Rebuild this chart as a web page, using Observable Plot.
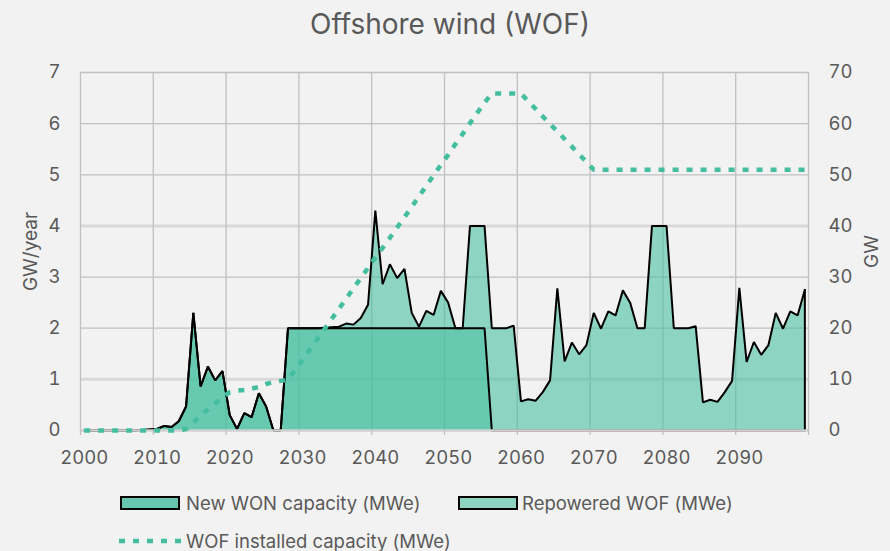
<!DOCTYPE html>
<html>
<head>
<meta charset="utf-8">
<script src="https://cdn.jsdelivr.net/npm/d3@7"></script>
<script src="https://cdn.jsdelivr.net/npm/@observablehq/plot@0.6"></script>
<style>
  html, body { margin: 0; padding: 0; background: #f2f2f2; }
  #wrap { position: relative; width: 890px; height: 551px; background: #f2f2f2; overflow: hidden;
          font-family: Inter, "Open Sans", sans-serif; color: #595959; }
  #chart { position: absolute; left: 0; top: 0; }
  #overlay { position: absolute; left: 0; top: 0; pointer-events: none; }
</style>
</head>
<body>
<div id="wrap"><div id="chart"></div></div>
<script>
// ---- Data ----
const firstYear = 2000;
const lastYear = 2099;

// New WON capacity (GW/year), 2000..2099
const newWON = [
  0, 0, 0, 0, 0, 0, 0, 0, 0.01, 0.02,
  0.03, 0.09, 0.07, 0.18, 0.47, 2.3, 0.86, 1.25, 0.98, 1.16,
  0.3, 0.03, 0.34, 0.26, 0.73, 0.47, 0, 0, 2, 2,
  2, 2, 2, 2, 2, 2, 2, 2, 2, 2,
  2, 2, 2, 2, 2, 2, 2, 2, 2, 2,
  2, 2, 2, 2, 2, 2, 0, 0, 0, 0,
  0, 0, 0, 0, 0, 0, 0, 0, 0, 0,
  0, 0, 0, 0, 0, 0, 0, 0, 0, 0,
  0, 0, 0, 0, 0, 0, 0, 0, 0, 0,
  0, 0, 0, 0, 0, 0, 0, 0, 0, 0
];

// Repowered WOF (GW/year), 2000..2099 (stacked on top of new capacity)
const repoweredWOF = [
  0, 0, 0, 0, 0, 0, 0, 0, 0, 0,
  0, 0, 0, 0, 0, 0, 0, 0, 0, 0,
  0, 0, 0, 0, 0, 0, 0, 0, 0, 0,
  0, 0, 0, 0.01, 0.02, 0.03, 0.09, 0.07, 0.2, 0.46,
  2.3, 0.86, 1.25, 0.98, 1.16, 0.3, 0.03, 0.34, 0.26, 0.73,
  0.5, 0, 0, 2, 2, 2, 2, 2, 2, 2.05,
  0.57, 0.61, 0.58, 0.75, 0.98, 2.78, 1.35, 1.72, 1.49, 1.67,
  2.3, 1.99, 2.33, 2.25, 2.74, 2.5, 2.0, 2.0, 4, 4,
  4, 2, 2, 2, 2.04, 0.55, 0.6, 0.56, 0.75, 0.97,
  2.79, 1.34, 1.73, 1.48, 1.67, 2.3, 1.99, 2.33, 2.25, 2.75
];

// WOF installed capacity (GW, right axis), 2000..2099
const installedGW = [
  0, 0, 0, 0, 0, 0, 0, 0, 0, 0,
  0, 0, 0, 0, 0.3, 1.5, 3.0, 4.1, 5.3, 6.4,
  7.5, 7.8, 7.9, 8.2, 8.5, 9.1, 9.5, 9.7, 9.9, 11.8,
  13.8, 15.8, 17.8, 19.8, 21.8, 23.8, 25.8, 27.8, 29.8, 31.8,
  33.8, 35.7, 37.7, 39.7, 41.7, 43.7, 45.8, 47.8, 49.9, 51.9,
  53.9, 56.0, 58.0, 60.1, 62.1, 64.1, 65.9, 65.9, 65.9, 65.9,
  65.9, 64.4, 62.9, 61.4, 59.9, 58.5, 57.0, 55.5, 54.0, 52.5,
  51, 51, 51, 51, 51, 51, 51, 51, 51, 51,
  51, 51, 51, 51, 51, 51, 51, 51, 51, 51,
  51, 51, 51, 51, 51, 51, 51, 51, 51, 51
];

const xTickLabels = [2000, 2010, 2020, 2030, 2040, 2050, 2060, 2070, 2080, 2090];
const yLeftTicks = [0, 1, 2, 3, 4, 5, 6, 7];
const yRightTicks = [0, 10, 20, 30, 40, 50, 60, 70];

const titleText = "Offshore wind (WOF)";
const leftLabel = "GW/year";
const rightLabel = "GW";
const seriesNames = ["New WON capacity (MWe)", "Repowered WOF (MWe)", "WOF installed capacity (MWe)"];

// ---- Styling ----
const teal = "#45bea0";
const darkFill = "rgb(102,198,176)";
const lightFill = "rgb(141,211,194)";
const textColor = "#595959";
const gridColor = "#c0c0c0";
const font = "Inter, 'Open Sans', sans-serif";
const tickFont = 18.5;

const years = d3.range(firstYear, lastYear + 1);
const data = years.map((year, i) => ({
  year,
  won: newWON[i],
  top: newWON[i] + repoweredWOF[i],
  gw: installedGW[i]
}));
// category boundaries (between-tick-marks category axis)
const gridX = d3.range(firstYear - 0.5, lastYear + 1, 10);

const chart = Plot.plot({
  width: 890,
  height: 470,
  marginLeft: 80,
  marginRight: 82,
  marginTop: 72,
  marginBottom: 40,
  style: { background: "transparent", fontFamily: font, fontSize: "16px", color: textColor, overflow: "visible" },
  x: { domain: [firstYear - 0.5, lastYear + 0.5], axis: null },
  y: { domain: [0, 7], axis: null },
  marks: [
    Plot.ruleY(yLeftTicks.slice(1), { stroke: gridColor, strokeWidth: 1.3 }),
    Plot.ruleY([1, 4], { stroke: "#d9d9d9", strokeWidth: 3 }),
    Plot.ruleX(gridX, { stroke: gridColor, strokeWidth: 1.3 }),
    Plot.areaY(data, { x: "year", y1: 0, y2: "won", fill: teal, fillOpacity: 0.8 }),
    Plot.areaY(data, { x: "year", y1: "won", y2: "top", fill: teal, fillOpacity: 0.59 }),
    Plot.lineY(data, { x: "year", y: "won", stroke: "black", strokeWidth: 2, strokeLinejoin: "miter" }),
    Plot.lineY(data, { x: "year", y: "top", stroke: "black", strokeWidth: 2, strokeLinejoin: "miter" }),
    Plot.ruleX(data.slice(-1), { x: "year", y1: 0, y2: "top", stroke: "black", strokeWidth: 2 }),
    Plot.ruleY([0], { stroke: "#d0d0d0", strokeWidth: 2.5 }),
    Plot.axisX({ ticks: gridX, tickSize: 5, tickFormat: () => "", stroke: gridColor, strokeWidth: 1.3, label: null }),
    Plot.axisX({ ticks: xTickLabels, tickSize: 0, tickPadding: 20, tickFormat: d => String(d), fontSize: tickFont, label: null }),
    Plot.axisY({ ticks: yLeftTicks, anchor: "left", tickSize: 0, tickPadding: 20, fontSize: tickFont,
                 tickFormat: d => String(d), label: null }),
    Plot.axisY({ ticks: yLeftTicks, anchor: "right", tickSize: 0, tickPadding: 20, fontSize: tickFont,
                 tickFormat: (d, i) => String(yRightTicks[i]), label: null }),
    Plot.text([leftLabel], { text: d => d, frameAnchor: "left", textAnchor: "middle", dx: -50, rotate: -90,
                             fontSize: 19, fill: textColor }),
    Plot.text([rightLabel], { text: d => d, frameAnchor: "right", textAnchor: "middle", dx: 63, rotate: -90,
                              fontSize: 19, fill: textColor }),
    Plot.lineY(data, { x: "year", y: d => d.gw / 10, stroke: teal, strokeWidth: 4.5,
                       strokeDasharray: "6 8", strokeLinecap: "butt", strokeLinejoin: "miter" })
  ]
});
document.getElementById("chart").appendChild(chart);

// ---- Title + legend overlay ----
const svg = d3.select("#wrap").append("svg").attr("id", "overlay")
  .attr("width", 890).attr("height", 551)
  .style("font-family", font).style("fill", textColor);

svg.append("text").attr("x", 450).attr("y", 33.5).attr("text-anchor", "middle")
  .attr("font-size", 28).attr("fill", textColor).text(titleText);

const legendItems = [
  { name: seriesNames[0], kind: "rect", fill: darkFill, sx: 121, tx: 186, cy: 503 },
  { name: seriesNames[1], kind: "rect", fill: lightFill, sx: 459, tx: 522, cy: 503 },
  { name: seriesNames[2], kind: "line", sx: 119, tx: 186, cy: 541 }
];
for (const it of legendItems) {
  if (it.kind === "rect") {
    svg.append("rect").attr("x", it.sx).attr("y", it.cy - 6).attr("width", 58).attr("height", 12)
      .attr("fill", it.fill).attr("stroke", "black").attr("stroke-width", 2);
  } else {
    svg.append("line").attr("x1", it.sx).attr("x2", it.sx + 64).attr("y1", it.cy).attr("y2", it.cy)
      .attr("stroke", teal).attr("stroke-width", 4.5).attr("stroke-dasharray", "6 8");
  }
  svg.append("text").attr("x", it.tx).attr("y", it.cy + 6.5).attr("font-size", 18.5)
    .attr("fill", textColor).text(it.name);
}
</script>
</body>
</html>
